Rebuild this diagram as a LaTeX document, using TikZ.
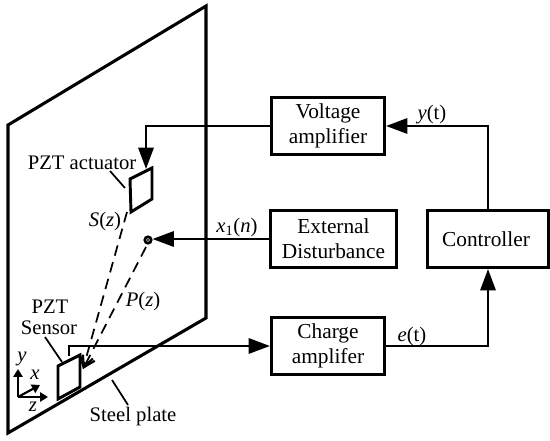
\documentclass[tikz,border=0pt]{standalone}
\usepackage{fontspec}
\setmainfont{Liberation Serif}
\usetikzlibrary{arrows.meta}
\tikzset{x=0.75pt,y=-0.75pt,
 blockbox/.style={draw,line width=2.1pt,minimum width=84pt,minimum height=42pt,align=center,font=\fontsize{16}{18.6}\selectfont,inner sep=0pt},
 lbl/.style={font=\fontsize{15.5}{16}\selectfont,inner sep=0pt,align=center},
 flow/.style={line width=1.6pt,-{Triangle[length=16pt,width=11.5pt]}},
 smallflow/.style={line width=1.6pt,-{Triangle[length=6pt,width=7pt]}},
 plate/.style={line width=2.3pt,line join=miter},
 pzt/.style={draw,line width=2.2pt,fill=white,line join=miter},
 dashline/.style={line width=1.3pt,dash pattern=on 8pt off 5pt},
 leader/.style={line width=1.3pt}}
\begin{document}
\begin{tikzpicture}
\useasboundingbox (0,0) rectangle (550,441);
\draw[plate] (8,125) -- (206,6) -- (206,318) -- (8,433) -- cycle;
% blocks
\node[blockbox,minimum width=85pt,minimum height=43pt] (va) at (328,126) {Voltage\\amplifier};
\node[blockbox,minimum width=94pt,minimum height=43pt] (ed) at (333.5,239) {External\\Disturbance};
\node[blockbox,minimum width=85pt,minimum height=43pt] (ca) at (328,346) {Charge\\amplifer};
\node[blockbox,minimum width=91pt,minimum height=43pt] (ct) at (488,239) {Controller\hspace*{3pt}};
% labels first, so that the PZT patches and arrows lie over them
\node[lbl] at (82,163) {PZT actuator};
\node[lbl] at (50,307) {PZT};
\node[lbl] at (49,328) {Sensor};
\node[lbl] at (133,417) {Steel plate};
\node[lbl] at (105,222) {\textit{S}(\textit{z})};
\node[lbl] at (143,302) {\textit{P}(\textit{z})};
\node[lbl] at (237,228) {\textit{x}\textsubscript{1}(\textit{n})};
\node[lbl] at (432,115) {\textit{y}(t)};
\node[lbl] at (412,337) {\textit{e}(t)};
% pzt
\draw[pzt] (130,179) -- (152,168) -- (152,199) -- (131,212) -- cycle;
\draw[pzt] (58,366) -- (80,355) -- (80,387) -- (58,399) -- cycle;
\coordinate (act) at (146,169);
\coordinate (sen) at (69,356);
\coordinate (dist) at (148,240);
\coordinate (snstip) at (83,369);
\coordinate (sstart) at (127,212);
\coordinate (pstart) at (146,247);
\draw[line width=2pt,fill=white] (dist) circle (2.4pt);
\fill (dist) circle (0.8pt);
% connectors
\draw[flow] (ct.north) |- (va.east);
\draw[flow] (va.west) -| (act);
\draw[flow] (ed.west) -- (152.5,239);
\draw[flow] (sen) |- (ca.west);
\draw[flow] (ca.east) -| (ct.south);
% dashed
\draw[dashline,-{Straight Barb[length=8pt,width=10pt,line width=1.6pt]}] (sstart) -- (snstip);
\draw[dashline,-{Straight Barb[length=8pt,width=10pt,line width=1.6pt]}] (pstart) -- (snstip);
% leaders
\draw[leader] (110,171) -- (125,188);
\draw[leader] (45,337) -- (62,362);
\draw[leader] (112,380) -- (128,405);
% axes
\coordinate (o) at (18,397);
\coordinate (oy) at (18,369);
\coordinate (oz) at (48,397);
\coordinate (ox) at (40,385);
\draw[smallflow] (o) -- (oy);
\draw[smallflow] (o) -- (oz);
\draw[smallflow] (o) -- (ox);
\node[lbl] at (22,359) {\textit{y}};
\node[lbl] at (35,375) {\textit{x}};
\node[lbl] at (33,407) {\textit{z}};
\end{tikzpicture}
\end{document}
